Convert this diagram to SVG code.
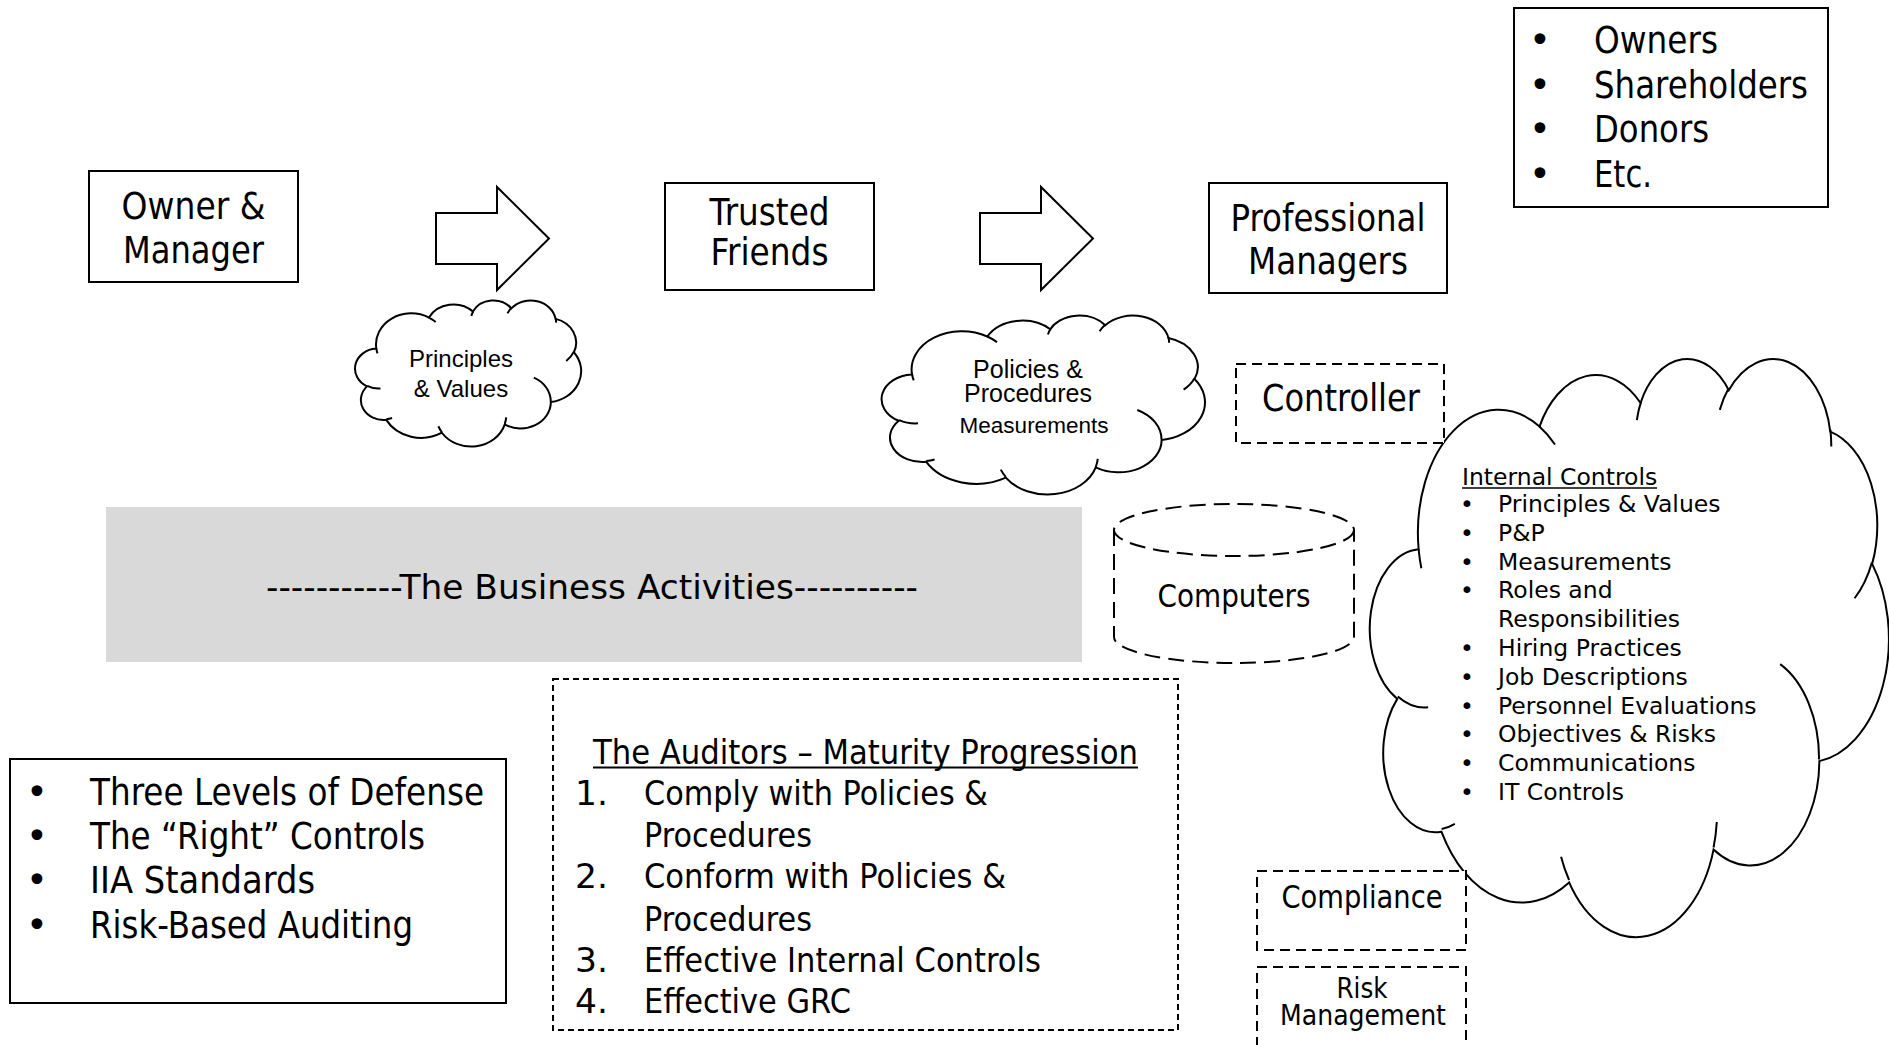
<svg xmlns="http://www.w3.org/2000/svg" xmlns:xlink="http://www.w3.org/1999/xlink" width="1889" height="1045" viewBox="0 0 1889 1045">
  <style>
    .box { fill: #fff; stroke: #000; stroke-width: 2; }
    .dash { fill: #fff; stroke: #000; stroke-width: 2; stroke-dasharray: 10 6; }
    .dash-fine { fill: #fff; stroke: #000; stroke-width: 2; stroke-dasharray: 6 4; }
    .arrow { fill: #fff; stroke: #000; stroke-width: 2; stroke-linejoin: miter; }
    .cloud { fill: #fff; stroke: #000; stroke-width: 2; vector-effect: non-scaling-stroke; }
    .fold { fill: none; stroke: #000; stroke-width: 2; vector-effect: non-scaling-stroke; }
    .t { font-family: "DejaVu Sans", Verdana, sans-serif; fill: #000; }
    .big { font-size: 37px; }
    .mid { text-anchor: middle; }
    .arial { font-family: "Liberation Sans", Arial, sans-serif; fill: #000; text-anchor: middle; }
    .ic { font-family: "DejaVu Sans", Verdana, sans-serif; font-size: 23.5px; fill: #000; }
  </style>
  <defs>
    <!-- cloud outline in a 432 x 432 unit frame -->
    <path id="cloudOutline" class="cloud" d="M39,143.7 A67.53,91.9 0 0 1 140.05,52.02 A53.33,72.67 0 0 1 224.55,34.34 A43.65,59.45 0 0 1 298.32,24.82 A48.57,65.95 0 0 1 383.17,55.77 A53.33,72.73 0 0 1 418.18,154.61 A67.75,92.2 0 0 1 374.04,302.05 A57.85,78.67 0 0 1 285.56,368.15 A67.52,92.15 0 0 1 164.81,392.69 A77.2,105.43 0 0 1 58.05,354.76 A43.6,59.18 0 0 1 21.15,255.53 A43.45,59.45 0 0 1 39,143.7 Z"/>
    <!-- inner fold strokes of the cloud bumps -->
    <path id="cloudFolds" class="fold" d="M46.93,261.77 A43.45,59.45 0 0 1 21.6,253.8 M69.28,348.99 A43.6,59.18 0 0 1 58.2,352.8 M164.78,390.9 A67.52,92.15 0 0 1 158.09,373.47 M288.27,347.51 A67.52,92.15 0 0 1 285.6,366.6 M341.29,229.54 A57.85,78.67 0 0 1 373.8,300.9 M417.98,153.54 A53.33,72.73 0 0 1 403.5,180.3 M383.24,54.26 A48.57,65.95 0 0 1 384.0,66.9 M290.78,39.52 A48.57,65.95 0 0 1 298.2,23.39 M221.41,47.2 A43.65,59.45 0 0 1 225.0,33.31 M140,51.92 A67.53,91.9 0 0 1 153.0,65.41 M41.27,157.89 A67.53,91.9 0 0 1 39,143.7"/>
  </defs>

  <!-- block arrows between the stages -->
  <g id="connectors">
    <polygon class="arrow" points="436,213 497,213 497,187 549,238.5 497,290 497,264 436,264"/>
    <polygon class="arrow" points="980,213 1041,213 1041,187 1093,238.5 1041,290 1041,264 980,264"/>
  </g>

  <g id="owner-manager">
    <rect class="box" x="89" y="171" width="209" height="111"/>
    <text class="t big mid" x="193.5" y="219" textLength="144" lengthAdjust="spacingAndGlyphs">Owner &amp;</text>
    <text class="t big mid" x="193.5" y="263" textLength="141" lengthAdjust="spacingAndGlyphs">Manager</text>
  </g>

  <g id="trusted-friends">
    <rect class="box" x="665" y="183" width="209" height="107"/>
    <text class="t big mid" x="769.5" y="225" textLength="120" lengthAdjust="spacingAndGlyphs">Trusted</text>
    <text class="t big mid" x="769.5" y="265" textLength="118" lengthAdjust="spacingAndGlyphs">Friends</text>
  </g>

  <g id="professional-managers">
    <rect class="box" x="1209" y="183" width="238" height="110"/>
    <text class="t big mid" x="1328" y="231" textLength="195" lengthAdjust="spacingAndGlyphs">Professional</text>
    <text class="t big mid" x="1328" y="274" textLength="160" lengthAdjust="spacingAndGlyphs">Managers</text>
  </g>

  <g id="stakeholders">
    <rect class="box" x="1514" y="8" width="314" height="199"/>
    <text class="t big mid" x="1540" y="53">•</text>
    <text class="t big mid" x="1540" y="98">•</text>
    <text class="t big mid" x="1540" y="142">•</text>
    <text class="t big mid" x="1540" y="187">•</text>
    <text class="t big" x="1594" y="53" textLength="124" lengthAdjust="spacingAndGlyphs">Owners</text>
    <text class="t big" x="1594" y="98" textLength="214" lengthAdjust="spacingAndGlyphs">Shareholders</text>
    <text class="t big" x="1594" y="142" textLength="115" lengthAdjust="spacingAndGlyphs">Donors</text>
    <text class="t big" x="1594" y="187" textLength="58" lengthAdjust="spacingAndGlyphs">Etc.</text>
  </g>

  <g id="cloud-principles">
    <use xlink:href="#cloudOutline" transform="translate(356,300) scale(0.521,0.338)"/>
    <use xlink:href="#cloudFolds" transform="translate(356,300) scale(0.521,0.338)"/>
    <text class="arial" x="461" y="367" font-size="24">Principles</text>
    <text class="arial" x="461" y="397" font-size="24">&amp; Values</text>
  </g>

  <g id="cloud-policies">
    <use xlink:href="#cloudOutline" transform="translate(883,315) scale(0.745,0.414)"/>
    <use xlink:href="#cloudFolds" transform="translate(883,315) scale(0.745,0.414)"/>
    <text class="arial" x="1028" y="378" font-size="25">Policies &amp;</text>
    <text class="arial" x="1028" y="402" font-size="25">Procedures</text>
    <text class="arial" x="1034" y="433" font-size="22.5">Measurements</text>
  </g>

  <g id="business-activities">
    <rect x="106" y="507" width="976" height="155" fill="#d9d9d9"/>
    <text class="t mid" x="592" y="599" font-size="34" textLength="652" lengthAdjust="spacingAndGlyphs">-----------The Business Activities----------</text>
  </g>

  <g id="internal-controls">
    <use xlink:href="#cloudOutline" transform="translate(1372,357) scale(1.196,1.338)"/>
    <use xlink:href="#cloudFolds" transform="translate(1372,357) scale(1.196,1.338)"/>
    <text class="ic" x="1462" y="485">Internal Controls</text>
    <line x1="1462" y1="488" x2="1657" y2="488" stroke="#000" stroke-width="1.5"/>
    <g class="ic" text-anchor="middle">
      <text x="1467" y="512">•</text>
      <text x="1467" y="540.8">•</text>
      <text x="1467" y="569.6">•</text>
      <text x="1467" y="598.4">•</text>
      <text x="1467" y="656">•</text>
      <text x="1467" y="684.8">•</text>
      <text x="1467" y="713.6">•</text>
      <text x="1467" y="742.4">•</text>
      <text x="1467" y="771.2">•</text>
      <text x="1467" y="800">•</text>
    </g>
    <g class="ic">
      <text x="1498" y="512">Principles &amp; Values</text>
      <text x="1498" y="540.8">P&amp;P</text>
      <text x="1498" y="569.6">Measurements</text>
      <text x="1498" y="598.4">Roles and</text>
      <text x="1498" y="627.2">Responsibilities</text>
      <text x="1498" y="656">Hiring Practices</text>
      <text x="1498" y="684.8">Job Descriptions</text>
      <text x="1498" y="713.6">Personnel Evaluations</text>
      <text x="1498" y="742.4">Objectives &amp; Risks</text>
      <text x="1498" y="771.2">Communications</text>
      <text x="1498" y="800">IT Controls</text>
    </g>
  </g>

  <g id="controller">
    <rect class="dash" x="1236" y="364" width="208" height="79"/>
    <text class="t big mid" x="1341" y="411" textLength="158" lengthAdjust="spacingAndGlyphs">Controller</text>
  </g>

  <g id="computers">
    <path d="M1114,530 L1114,637 A120,26 0 0 0 1354,637 L1354,530" fill="#fff" stroke="#000" stroke-width="2" stroke-dasharray="16 8"/>
    <ellipse cx="1234" cy="530" rx="120" ry="26" fill="#fff" stroke="#000" stroke-width="2" stroke-dasharray="16 8"/>
    <text class="t mid" x="1234" y="607" font-size="32" textLength="153" lengthAdjust="spacingAndGlyphs">Computers</text>
  </g>

  <g id="defense-list">
    <rect class="box" x="10" y="759" width="496" height="244"/>
    <text class="t big mid" x="37" y="805">•</text>
    <text class="t big mid" x="37" y="849">•</text>
    <text class="t big mid" x="37" y="893">•</text>
    <text class="t big mid" x="37" y="938">•</text>
    <text class="t big" x="90" y="805" textLength="394" lengthAdjust="spacingAndGlyphs">Three Levels of Defense</text>
    <text class="t big" x="90" y="849" textLength="335" lengthAdjust="spacingAndGlyphs">The “Right” Controls</text>
    <text class="t big" x="90" y="893" textLength="225" lengthAdjust="spacingAndGlyphs">IIA Standards</text>
    <text class="t big" x="90" y="938" textLength="323" lengthAdjust="spacingAndGlyphs">Risk-Based Auditing</text>
  </g>

  <g id="auditors">
    <rect class="dash-fine" x="553" y="679" width="625" height="351"/>
    <text class="t" x="593" y="764" font-size="34.5" textLength="545" lengthAdjust="spacingAndGlyphs">The Auditors – Maturity Progression</text>
    <line x1="593" y1="767.5" x2="1138" y2="767.5" stroke="#000" stroke-width="2"/>
    <g class="t" font-size="34.5">
      <text x="575" y="805">1.</text>
      <text x="575" y="888">2.</text>
      <text x="575" y="972">3.</text>
      <text x="575" y="1013">4.</text>
      <text x="644" y="805" textLength="344" lengthAdjust="spacingAndGlyphs">Comply with Policies &amp;</text>
      <text x="644" y="847" textLength="168" lengthAdjust="spacingAndGlyphs">Procedures</text>
      <text x="644" y="888" textLength="362" lengthAdjust="spacingAndGlyphs">Conform with Policies &amp;</text>
      <text x="644" y="931" textLength="168" lengthAdjust="spacingAndGlyphs">Procedures</text>
      <text x="644" y="972" textLength="397" lengthAdjust="spacingAndGlyphs">Effective Internal Controls</text>
      <text x="644" y="1013" textLength="207" lengthAdjust="spacingAndGlyphs">Effective GRC</text>
    </g>
  </g>

  <g id="compliance">
    <rect class="dash" x="1257" y="871" width="209" height="79"/>
    <text class="t mid" x="1362" y="908" font-size="31.5" textLength="161" lengthAdjust="spacingAndGlyphs">Compliance</text>
  </g>

  <g id="risk-management">
    <rect class="dash" x="1257" y="967" width="209" height="95"/>
    <text class="t mid" x="1362" y="998" font-size="29" textLength="51" lengthAdjust="spacingAndGlyphs">Risk</text>
    <text class="t mid" x="1363" y="1025" font-size="29" textLength="166" lengthAdjust="spacingAndGlyphs">Management</text>
  </g>
</svg>
